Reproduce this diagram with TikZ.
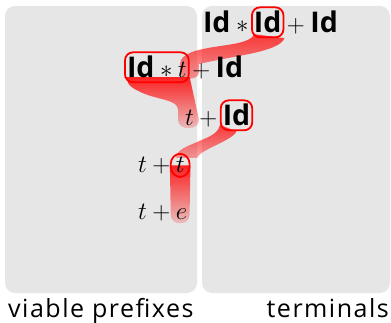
\documentclass[tikz,border=0pt]{standalone}
\usepackage{fontspec}
\setsansfont{Open Sans}
\newfontfamily\lblfont{Open Sans}
\newfontfamily\labfont{Open Sans}[LetterSpace=6]
\usetikzlibrary{fadings,fit}
\pgfdeclarelayer{background}
\pgfsetlayers{background,main}
\definecolor{boxgray}{RGB}{230,230,230}
\newcommand\Idw{\mbox{\lblfont\bfseries Id}}
\tikzfading[name=fadedown, top color=transparent!15, bottom color=transparent!85]
\tikzfading[name=fadeband, top color=transparent!25, bottom color=transparent!65]
\tikzset{
  panel/.style={fill=boxgray, rounded corners=10pt},
  txt/.style={inner sep=0pt, outer sep=0pt, anchor=base west, font=\fontsize{28.5}{30}\selectfont},
  hl/.style={draw=red, line width=1.8pt, rounded corners=8pt, inner xsep=2pt, inner ysep=4pt},
  ribbon/.style={fill=red, path fading=fadedown},
  band/.style={fill=red, path fading=fadeband},
  lbl/.style={inner sep=0pt, font=\labfont\fontsize{25}{28}\selectfont}
}
\begin{document}
\begin{tikzpicture}[x=1pt,y=-1pt]
\useasboundingbox (0,0) rectangle (391,323);
% rows
\node[txt] (a1) at (203,33) {\Idw};
\node[txt] (a2) at (a1.base east) {${}\ast{}$};
\node[txt] (a3) at (a2.base east) {\Idw};
\node[txt] (a4) at (a3.base east) {${}+{}$};
\node[txt] (a5) at (a4.base east) {\Idw};
\node[txt] (b1) at (127,78) {\Idw};
\node[txt] (b2) at (b1.base east) {${}\ast{}$};
\node[txt] (b3) at (b2.base east) {$t$};
\node[txt] (b4) at (b3.base east) {${}+{}$};
\node[txt] (b5) at (b4.base east) {\Idw};
\node[txt] (c1) at (185,126) {$t$};
\node[txt] (c2) at (c1.base east) {${}+{}$};
\node[txt] (c3) at (c2.base east) {\Idw};
\node[txt] (d1) at (138,173) {$t$};
\node[txt] (d2) at (d1.base east) {${}+{}$};
\node[txt] (d3) at (d2.base east) {$t$};
\node[txt] (e1) at (138,220) {$t$};
\node[txt] (e2) at (e1.base east) {${}+{}$};
\node[txt] (e3) at (e2.base east) {$e$};
% highlight outlines
\node[hl, fit=(a3)] (o1) {};
\node[hl, fit=(b1)(b3)] (o2) {};
\node[hl, fit=(c3)] (o3) {};
\node[hl, fit=(d3), inner xsep=5pt, rounded corners=10pt] (o4) {};
\begin{pgfonlayer}{background}
\fill[panel] (5,6) rectangle (197,293);
\fill[panel] (202,6) rectangle (390,293);
% ribbons
\fill[band] (o1.south west) ++(3,-4) .. controls +(-5,12) and (215,44) .. (192,52)
  .. controls (185,55) and (180,58) .. (180,64) -- (180,72) .. controls (180,81) and (199,81) .. (199,72)
  -- (199,64) .. controls (232,56) and (280,52) .. (o1.south east) -- cycle;
\fill[ribbon] (o2.south west) ++(0,-6) -- ([yshift=6pt]o2.south east) -- (199,120)
  .. controls (199,131) and (178,131) .. (178,120) -- (178,110)
  .. controls (178,100) and (160,100) .. (145,94) .. controls (130,88) and (127,84) .. (127,78) -- cycle;
\fill[band] (o3.south west) ++(0,-6) .. controls (218,135) and (205,138) .. (195,143)
  .. controls (182,148) and (176,152) .. (176,158) -- (197,158)
  .. controls (199,150) and (234,140) .. (o3.south) -- cycle;
\fill[ribbon] (o4.west) -- (o4.east) -- ([xshift=-0.9pt]o4.east |- 0,215) .. controls +(0,11) and +(0,11) .. ([xshift=0.9pt]o4.west |- 0,215) -- cycle;
\end{pgfonlayer}
% labels
\node[lbl, anchor=base west] (l1) at (8,317) {viable prefixes};
\node[lbl, anchor=base east] (l2) at (389,317) {terminals};
\end{tikzpicture}
\end{document}
